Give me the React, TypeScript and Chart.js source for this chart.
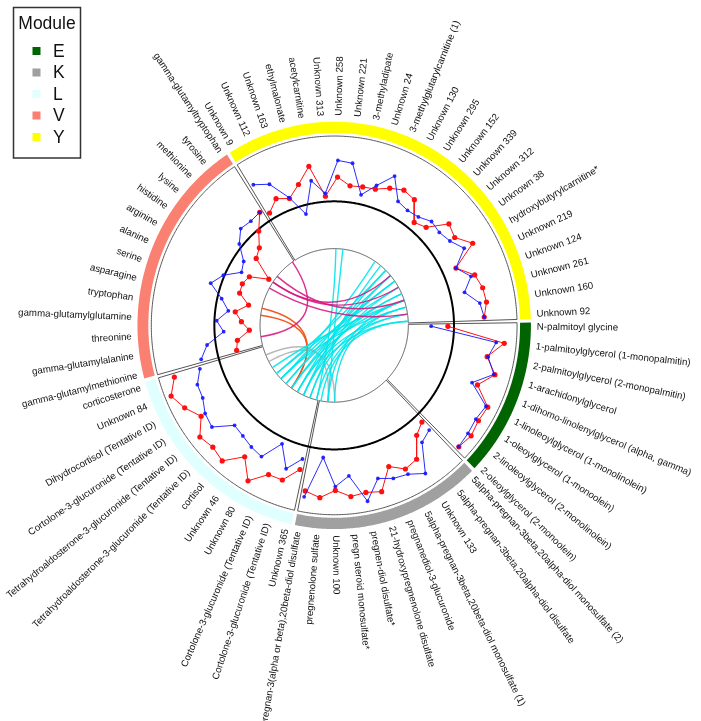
import React, { useEffect, useRef } from 'react';
import { Chart, registerables } from 'chart.js';

Chart.register(...registerables);

// ---------------- data ----------------
const MODULES = ['E', 'K', 'L', 'V', 'Y'];
const MODULE_COLORS = ['#006400', '#A0A0A0', '#E0FFFF', '#FA8072', '#FFFF00'];

const E_LABELS = [
  'N-palmitoyl glycine',
  '1-palmitoylglycerol (1-monopalmitin)',
  '2-palmitoylglycerol (2-monopalmitin)',
  '1-arachidonylglycerol',
  '1-dihomo-linolenylglycerol (alpha, gamma)',
  '1-linoleoylglycerol (1-monolinolein)',
  '1-oleoylglycerol (1-monoolein)',
  '2-linoleoylglycerol (2-monolinolein)',
  '2-oleoylglycerol (2-monoolein)',
];
const K_LABELS = [
  '5alpha-pregnan-3beta,20alpha-diol monosulfate (2)',
  '5alpha-pregnan-3beta,20alpha-diol disulfate',
  'Unknown 133',
  '5alpha-pregnan-3beta,20beta-diol monosulfate (1)',
  'pregnanediol-3-glucuronide',
  '21-hydroxypregnenolone disulfate',
  'pregnen-diol disulfate*',
  'pregn steroid monosulfate*',
  'Unknown 100',
  'pregnenolone sulfate',
  '5alpha-pregnan-3(alpha or beta),20beta-diol disulfate',
];
const L_LABELS = [
  'Unknown 365',
  'Cortolone-3-glucuronide (Tentative ID)',
  'Cortolone-3-glucuronide (Tentative ID)',
  'Unknown 80',
  'Unknown 46',
  'cortisol',
  'Tetrahydroaldosterone-3-glucuronide (Tentative ID)',
  'Tetrahydroaldosterone-3-glucuronide (Tentative ID)',
  'Cortolone-3-glucuronide (Tentative ID)',
  'Dihydrocortisol (Tentative ID)',
  'Unknown 84',
  'corticosterone',
];
const V_LABELS = [
  'gamma-glutamylmethionine',
  'gamma-glutamylalanine',
  'threonine',
  'gamma-glutamylglutamine',
  'tryptophan',
  'asparagine',
  'serine',
  'alanine',
  'arginine',
  'histidine',
  'lysine',
  'methionine',
  'tyrosine',
  'gamma-glutamyltryptophan',
];
const Y_LABELS = [
  'Unknown 9', 'Unknown 112', 'Unknown 163', 'ethylmalonate', 'acetylcarnitine',
  'Unknown 313', 'Unknown 258', 'Unknown 221', '3-methyladipate', 'Unknown 24',
  '3-methylglutarylcarnitine (1)', 'Unknown 130', 'Unknown 295', 'Unknown 152',
  'Unknown 339', 'Unknown 312', 'Unknown 38', 'hydroxybutyrylcarnitine*',
  'Unknown 219', 'Unknown 124', 'Unknown 261', 'Unknown 160', 'Unknown 92',
];

const E_RED = [-0.28, 2.35, 1.66, 2.2, 1.59, 2.43, 2.36, 2.47, 2.36];
const E_BLUE = [-1.05, 1.98, 1.7, 2.15, 1.32, 2.34, 2.22, 2.29, 2.35];
const K_RED = [0.38, 0.67, 1.54, 1.66, 1.24, 2.19, 2.05, 2.13, 1.82, 2.17, 1.96];
const K_BLUE = [0.87, 1.07, 2.29, 1.92, 1.81, 1.58, 2.45, 1.21, 1.65, 0.38, 2.23];
const L_RED = [1.08, 1.76, 1.77, 2.45, 1.63, 2.41, 2.26, 2.41, 1.82, 2.28, 2.62, 2.19];
const L_BLUE = [0.6, 1.23, 0.27, 1.21, 1.1, 0.95, 0.87, 1.7, 1.6, 1.34, 1.31, 0.96];
const V_RED = [-0.89, -1.01, -1.6, -1.24, -0.92, -1.47, -0.93, -0.9, -1.05, -1.87, -0.85, -0.64, -0.07, 0.57];
const V_BLUE = [0.79, 0.4, -0.42, -0.1, -0.6, -0.2, 0.47, 0.05, -0.64, -0.47, 0.16, 0.57, 0.5, 0.57];
const Y_RED = [0.3, 0.72, 0.49, 0.96, 1.65, 0.24, 1.08, 0.73, 0.78, 0.83, 1.1, 1.3, 1.18, 0.36, 0.56, 1.43, 1.27, 1.83, 0.64, 1.33, 1.52, 1.57, 1.4];
const Y_BLUE = [1.76, 1.43, 0.53, -0.4, 1.0, 0.37, 1.82, 1.74, 0.42, 1.0, 1.68, 0.73, 0.61, 0.67, 0.92, 0.85, 1.0, 1.38, 0.64, 1.15, 0.66, 1.26, 1.4];

const CYAN_LINKS = [
  ['Y', 13, 'L', 2], ['Y', 14, 'L', 3], ['Y', 15, 'L', 1], ['Y', 15, 'L', 5],
  ['Y', 16, 'L', 4], ['Y', 16, 'L', 6], ['Y', 17, 'L', 2], ['Y', 17, 'L', 7],
  ['Y', 18, 'L', 3], ['Y', 18, 'L', 5], ['Y', 19, 'L', 4], ['Y', 19, 'L', 8],
  ['Y', 20, 'L', 1], ['Y', 20, 'L', 6], ['Y', 21, 'L', 0], ['Y', 21, 'L', 3],
  ['Y', 22, 'L', 2], ['Y', 22, 'K', 10], ['Y', 19, 'K', 9], ['Y', 20, 'K', 8],
  ['Y', 7, 'K', 9], ['Y', 6, 'L', 0], ['Y', 14, 'L', 7], ['Y', 12, 'L', 6],
];
const MAGENTA_LINKS = [
  ['V', 13, 'V', 1], ['V', 9, 'Y', 15], ['V', 9, 'Y', 17], ['V', 10, 'Y', 19], ['V', 8, 'Y', 21],
];
const ORANGE_LINKS = [['V', 4, 'L', 4], ['V', 5, 'L', 4]];
const GRAY_LINKS = [['L', 9, 'K', 8], ['L', 10, 'K', 9]];

const SECTOR_LABELS = [E_LABELS, K_LABELS, L_LABELS, V_LABELS, Y_LABELS];
const SECTOR_RED = [E_RED, K_RED, L_RED, V_RED, Y_RED];
const SECTOR_BLUE = [E_BLUE, K_BLUE, L_BLUE, V_BLUE, Y_BLUE];

// ---------------- layout ----------------
const START_DEG = 89.2;
const STEP = 5.35;
const PAD = 1.26;
const GAP = 1.0;
const R_IN = 75;
const R_OUT = 185;
const V_MIN = -2.1;
const V_MAX = 2.9;
const RING_IN = 188;
const RING_OUT = 199;
const LABEL_R = 205;
const BLACK_R = 121.2;

const sectorStart: number[] = [];
const sectorEnd: number[] = [];
(() => {
  let a = START_DEG;
  SECTOR_LABELS.forEach((labs) => {
    sectorStart.push(a);
    const e = a + 2 * PAD + (labs.length - 1) * STEP;
    sectorEnd.push(e);
    a = e + GAP;
  });
})();

const angleOf = (k: number, i: number) => sectorStart[k] + PAD + i * STEP;
const radiusOf = (v: number) => R_IN + ((v - V_MIN) / (V_MAX - V_MIN)) * (R_OUT - R_IN);
const polar = (deg: number, r: number) => {
  const t = (deg * Math.PI) / 180;
  return { x: r * Math.sin(t), y: r * Math.cos(t) };
};

function buildDatasets() {
  const ds: any[] = [];
  // blue first -> drawn on top
  SECTOR_BLUE.forEach((vals, k) => {
    ds.push({
      label: 'blue ' + MODULES[k],
      data: vals.map((v, i) => polar(angleOf(k, i), radiusOf(v))),
      showLine: true,
      borderColor: 'rgba(20,20,255,0.9)',
      backgroundColor: 'rgba(20,20,255,0.9)',
      borderWidth: 1,
      pointRadius: 1.9,
      pointBorderWidth: 0,
      pointBackgroundColor: 'rgba(20,20,255,0.9)',
      tension: 0,
    });
  });
  SECTOR_RED.forEach((vals, k) => {
    ds.push({
      label: 'red ' + MODULES[k],
      data: vals.map((v, i) => polar(angleOf(k, i), radiusOf(v))),
      showLine: true,
      borderColor: '#FF1010',
      backgroundColor: '#FF1010',
      borderWidth: 1,
      pointRadius: 2.6,
      pointBorderWidth: 0,
      pointBackgroundColor: '#FF1010',
      tension: 0,
    });
  });
  return ds;
}

const circosPlugin = {
  id: 'circos',
  beforeDatasetsDraw(chart: any) {
    const ctx = chart.ctx;
    const xs = chart.scales.x;
    const ys = chart.scales.y;
    const P = (deg: number, r: number) => {
      const p = polar(deg, r);
      return { x: xs.getPixelForValue(p.x), y: ys.getPixelForValue(p.y) };
    };
    const arcPath = (a0: number, a1: number, r: number, first: boolean) => {
      const n = Math.max(2, Math.ceil(Math.abs(a1 - a0) / 0.5));
      for (let j = 0; j <= n; j++) {
        const a = a0 + ((a1 - a0) * j) / n;
        const p = P(a, r);
        if (j === 0 && first) ctx.moveTo(p.x, p.y);
        else ctx.lineTo(p.x, p.y);
      }
    };
    ctx.save();
    // module ring
    MODULES.forEach((m, k) => {
      ctx.beginPath();
      arcPath(sectorStart[k], sectorEnd[k], RING_OUT, true);
      arcPath(sectorEnd[k], sectorStart[k], RING_IN, false);
      ctx.closePath();
      ctx.fillStyle = MODULE_COLORS[k];
      ctx.fill();
    });
    // track cells
    ctx.strokeStyle = '#555';
    ctx.lineWidth = 1;
    MODULES.forEach((m, k) => {
      ctx.beginPath();
      arcPath(sectorStart[k], sectorEnd[k], R_OUT, true);
      arcPath(sectorEnd[k], sectorStart[k], R_IN, false);
      ctx.closePath();
      ctx.stroke();
    });
    // reference circle
    ctx.beginPath();
    arcPath(0, 360, BLACK_R, true);
    ctx.closePath();
    ctx.strokeStyle = '#000';
    ctx.lineWidth = 2;
    ctx.stroke();
    // links
    const c = P(0, 0);
    const drawLinks = (links: any[], color: string) => {
      ctx.strokeStyle = color;
      ctx.lineWidth = 1.4;
      links.forEach((l) => {
        const k1 = MODULES.indexOf(l[0]);
        const k2 = MODULES.indexOf(l[2]);
        const p0 = P(angleOf(k1, l[1]), R_IN);
        const p2 = P(angleOf(k2, l[3]), R_IN);
        ctx.beginPath();
        ctx.moveTo(p0.x, p0.y);
        ctx.quadraticCurveTo(c.x, c.y, p2.x, p2.y);
        ctx.stroke();
      });
    };
    drawLinks(GRAY_LINKS, 'rgba(180,180,180,0.95)');
    drawLinks(ORANGE_LINKS, 'rgba(240,80,20,0.95)');
    drawLinks(CYAN_LINKS, 'rgba(0,230,235,0.9)');
    drawLinks(MAGENTA_LINKS, 'rgba(215,25,130,0.9)');
    ctx.restore();
  },
  afterDraw(chart: any) {
    const ctx = chart.ctx;
    const xs = chart.scales.x;
    const ys = chart.scales.y;
    const P = (deg: number, r: number) => {
      const p = polar(deg, r);
      return { x: xs.getPixelForValue(p.x), y: ys.getPixelForValue(p.y) };
    };
    ctx.save();
    ctx.font = "9.7px 'Liberation Sans', Arial, sans-serif";
    ctx.fillStyle = '#111';
    ctx.textBaseline = 'middle';
    SECTOR_LABELS.forEach((labs, k) => {
      labs.forEach((txt, i) => {
        const a = angleOf(k, i);
        const p = P(a, LABEL_R);
        const q = P(a, LABEL_R + 10);
        const phi = Math.atan2(q.y - p.y, q.x - p.x);
        const norm = ((a % 360) + 360) % 360;
        ctx.save();
        ctx.translate(p.x, p.y);
        if (norm < 180) {
          ctx.rotate(phi);
          ctx.textAlign = 'left';
        } else {
          ctx.rotate(phi + Math.PI);
          ctx.textAlign = 'right';
        }
        ctx.fillText(txt, 0, 0);
        ctx.restore();
      });
    });
    // legend
    ctx.strokeStyle = '#333';
    ctx.lineWidth = 1.5;
    ctx.strokeRect(13.5, 7.5, 67, 150.5);
    ctx.fillStyle = '#111';
    ctx.font = "17.5px 'Liberation Sans', Arial, sans-serif";
    ctx.textAlign = 'center';
    ctx.textBaseline = 'middle';
    ctx.fillText('Module', 47, 24);
    ctx.textAlign = 'left';
    MODULES.forEach((m, k) => {
      const yy = 51 + k * 21.5;
      ctx.fillStyle = MODULE_COLORS[k];
      ctx.fillRect(32.5, yy - 4, 8, 8);
      ctx.fillStyle = '#111';
      ctx.fillText(m, 53, yy + 1);
    });
    ctx.restore();
  },
};

export default function App() {
  const ref = useRef<HTMLCanvasElement | null>(null);
  useEffect(() => {
    if (!ref.current) return;
    const chart = new Chart(ref.current, {
      type: 'scatter',
      data: { datasets: buildDatasets() },
      options: {
        animation: false,
        responsive: false,
        devicePixelRatio: 1,
        layout: { padding: 0 },
        plugins: { legend: { display: false }, tooltip: { enabled: false } },
        scales: {
          x: { type: 'linear', min: -334, max: 367, display: false },
          y: { type: 'linear', min: -382.6, max: 314, display: false },
        },
      },
      plugins: [circosPlugin],
    });
    return () => chart.destroy();
  }, []);
  return (
    <div style={{ position: 'absolute', left: 0, top: 0, width: 701, height: 721, background: '#fff' }}>
      <canvas ref={ref} width={701} height={721} style={{ width: 701, height: 721 }} />
    </div>
  );
}
